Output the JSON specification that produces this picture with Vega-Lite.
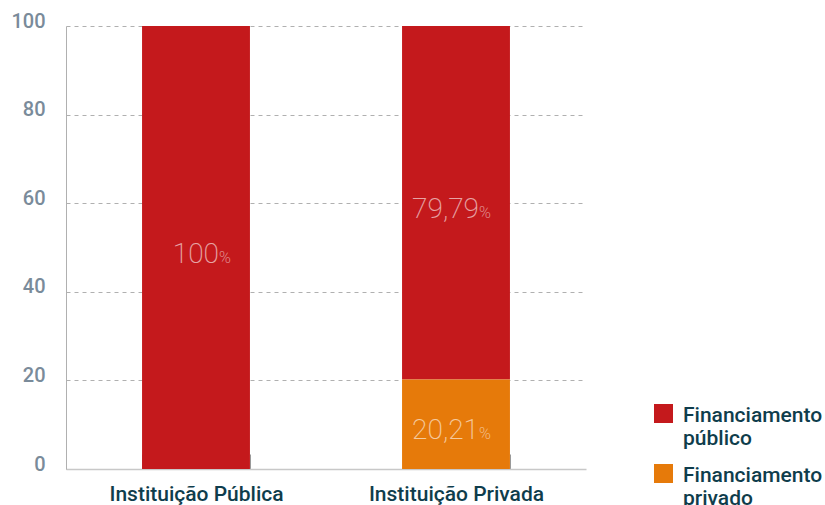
{
  "$schema": "https://vega.github.io/schema/vega-lite/v6.json",
  "width": 520,
  "height": 443,
  "autosize": {"type": "none"},
  "padding": {"left": 66, "top": 26, "right": 239, "bottom": 36},
  "background": "white",
  "config": {"view": {"stroke": null}},
  "data": {"values": [
    {"inst": "Instituição Pública", "tipo": "Financiamento público", "valor": 100, "lbl": "100"},
    {"inst": "Instituição Privada", "tipo": "Financiamento público", "valor": 79.79, "lbl": "79,79"},
    {"inst": "Instituição Privada", "tipo": "Financiamento privado", "valor": 20.21, "lbl": "20,21"}
  ]},
  "transform": [
    {"stack": "valor", "groupby": ["inst"], "sort": [{"field": "tipo", "order": "ascending"}], "as": ["v0", "v1"]},
    {"calculate": "(datum.v0 + datum.v1) / 2", "as": "mid"}
  ],
  "encoding": {
    "x": {
      "field": "inst", "type": "nominal",
      "sort": ["Instituição Pública", "Instituição Privada"],
      "scale": {"paddingInner": 0.585, "paddingOuter": 0.2925},
      "axis": {
        "title": null, "labelAngle": 0,
        "domainColor": "#c8c8c8", "domainWidth": 1.5,
        "tickColor": "#999999", "tickWidth": 1, "tickBand": "extent", "tickSize": -15,
        "labelFont": "Roboto", "labelFontSize": 21, "labelFontWeight": 500,
        "labelColor": "#0f3d4c", "labelPadding": 29
      }
    }
  },
  "layer": [
    {
      "mark": {"type": "bar"},
      "encoding": {
        "y": {
          "field": "v0", "type": "quantitative",
          "scale": {"domain": [0, 100], "nice": false},
          "axis": {
            "title": null, "values": [0, 20, 40, 60, 80, 100],
            "grid": true, "gridDash": [4, 4], "gridColor": "#b0b0b0",
            "domainColor": "#b0b0b0", "ticks": false, "labelPadding": 21,
            "labelFont": "Roboto", "labelFontSize": 20, "labelFontWeight": 500,
            "labelColor": "#7a8b9a", "labelOffset": -5
          }
        },
        "y2": {"field": "v1"},
        "color": {
          "field": "tipo", "type": "nominal",
          "scale": {"domain": ["Financiamento público", "Financiamento privado"], "range": ["#c4191c", "#e67a0a"]},
          "legend": {
            "orient": "none", "legendX": 587, "legendY": 377, "title": null,
            "symbolType": "square", "symbolSize": 361, "symbolStrokeWidth": 0, "symbolOpacity": 1,
            "labelFont": "Roboto", "labelFontSize": 21, "labelFontWeight": 500,
            "labelColor": "#0f3d4c", "labelExpr": "split(datum.label, ' ')",
            "labelBaseline": "top", "labelOffset": 9, "rowPadding": 14, "labelLimit": 300,
            "encode": {"labels": {"update": {"dy": {"value": -9}}}}
          }
        }
      }
    },
    {
      "mark": {"type": "text", "font": "Roboto", "fontWeight": 200, "fontSize": 28, "color": "white", "opacity": 0.6, "align": "right", "baseline": "alphabetic", "dx": 23, "dy": 15},
      "encoding": {
        "y": {"field": "mid", "type": "quantitative"},
        "text": {"field": "lbl"}
      }
    },
    {
      "mark": {"type": "text", "font": "Roboto", "fontWeight": 200, "fontSize": 16, "color": "white", "opacity": 0.6, "align": "left", "baseline": "alphabetic", "dx": 23, "dy": 15, "text": "%"},
      "encoding": {
        "y": {"field": "mid", "type": "quantitative"}
      }
    }
  ]
}
